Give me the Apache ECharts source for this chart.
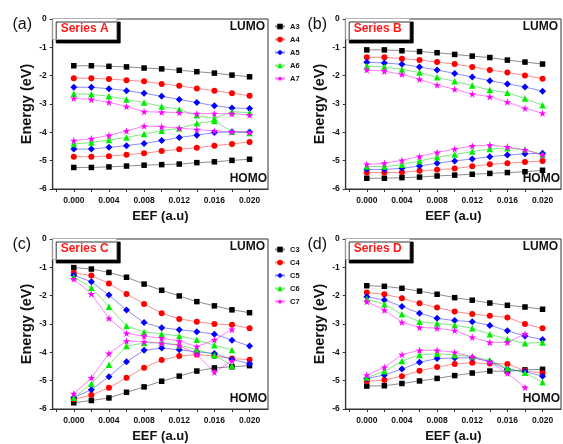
<!DOCTYPE html>
<html>
<head>
<meta charset="utf-8">
<script src="https://cdn.jsdelivr.net/npm/echarts@6/dist/echarts.min.js"></script>
<style>html,body{margin:0;padding:0;background:#fff}#c{width:563px;height:444px}</style>
</head>
<body>
<div id="c"></div>
<script>
// EEF values (a.u)
const eef = [0.000, 0.002, 0.004, 0.006, 0.008, 0.010, 0.012, 0.014, 0.016, 0.018, 0.020];
const xMajor = [0.000, 0.004, 0.008, 0.012, 0.016, 0.020];
const xMinor = [-0.002, 0.000, 0.002, 0.004, 0.006, 0.008, 0.010, 0.012, 0.014, 0.016, 0.018, 0.020];
const namesA = ['A3', 'A4', 'A5', 'A6', 'A7'];
const namesC = ['C3', 'C4', 'C5', 'C6', 'C7'];

// Series A
const a_lumo = [
  [-1.65,-1.65,-1.67,-1.69,-1.73,-1.76,-1.81,-1.86,-1.91,-1.98,-2.04],
  [-2.09,-2.09,-2.12,-2.16,-2.20,-2.29,-2.36,-2.45,-2.53,-2.62,-2.71],
  [-2.41,-2.41,-2.46,-2.53,-2.62,-2.73,-2.84,-2.95,-3.06,-3.14,-3.16],
  [-2.64,-2.66,-2.73,-2.84,-2.95,-3.09,-3.19,-3.40,-3.51,-3.27,-3.31],
  [-2.80,-2.84,-2.94,-3.09,-3.27,-3.29,-3.30,-3.34,-3.34,-3.34,-3.39]
];
const a_homo = [
  [-5.24,-5.24,-5.22,-5.19,-5.16,-5.14,-5.12,-5.07,-5.04,-4.99,-4.95],
  [-4.86,-4.86,-4.84,-4.79,-4.74,-4.66,-4.60,-4.54,-4.47,-4.41,-4.34],
  [-4.59,-4.59,-4.53,-4.47,-4.39,-4.29,-4.18,-4.10,-4.01,-3.98,-3.99],
  [-4.41,-4.36,-4.27,-4.18,-4.06,-3.94,-3.86,-3.68,-3.60,-3.98,-4.02],
  [-4.29,-4.22,-4.11,-3.95,-3.78,-3.80,-3.85,-3.90,-3.95,-3.98,-4.00]
];
// Series B
const b_lumo = [
  [-1.09,-1.09,-1.12,-1.15,-1.19,-1.25,-1.31,-1.36,-1.45,-1.52,-1.59],
  [-1.35,-1.35,-1.40,-1.45,-1.52,-1.59,-1.69,-1.80,-1.89,-1.99,-2.11],
  [-1.53,-1.55,-1.60,-1.69,-1.80,-1.92,-2.05,-2.18,-2.29,-2.40,-2.55],
  [-1.66,-1.69,-1.78,-1.89,-2.06,-2.20,-2.35,-2.51,-2.60,-2.81,-3.04],
  [-1.80,-1.84,-1.95,-2.13,-2.33,-2.48,-2.65,-2.74,-2.93,-3.15,-3.33]
];
const b_homo = [
  [-5.62,-5.62,-5.60,-5.58,-5.54,-5.51,-5.48,-5.45,-5.42,-5.39,-5.34],
  [-5.42,-5.42,-5.41,-5.36,-5.32,-5.28,-5.20,-5.13,-5.09,-5.05,-5.01],
  [-5.31,-5.31,-5.27,-5.19,-5.09,-5.01,-4.94,-4.86,-4.80,-4.76,-4.74],
  [-5.21,-5.21,-5.14,-5.01,-4.88,-4.78,-4.68,-4.59,-4.56,-4.61,-4.78],
  [-5.13,-5.09,-4.99,-4.85,-4.71,-4.59,-4.48,-4.45,-4.51,-4.62,-4.81]
];
// Series C
const c_lumo = [
  [-1.01,-1.06,-1.18,-1.35,-1.59,-1.81,-2.01,-2.21,-2.36,-2.50,-2.60],
  [-1.19,-1.29,-1.57,-1.94,-2.29,-2.62,-2.82,-2.92,-3.00,-3.03,-3.15],
  [-1.28,-1.51,-1.98,-2.51,-2.95,-3.13,-3.20,-3.27,-3.36,-3.57,-3.78],
  [-1.34,-1.72,-2.39,-3.07,-3.28,-3.35,-3.42,-3.56,-3.75,-3.92,null],
  [-1.41,-1.94,-2.80,-3.33,-3.43,-3.50,-3.60,-3.80,-3.56,-3.19,null]
];
const c_homo = [
  [-5.78,-5.70,-5.61,-5.41,-5.22,-5.02,-4.84,-4.66,-4.55,-4.51,-4.47],
  [-5.66,-5.51,-5.25,-4.90,-4.54,-4.27,-4.13,-4.08,-4.13,-4.22,-4.26],
  [-5.59,-5.32,-4.86,-4.33,-3.93,-3.85,-3.91,-3.98,-4.04,-4.25,-4.40],
  [-5.60,-5.11,-4.44,-3.78,-3.67,-3.66,-3.75,-3.90,-4.10,-4.47,null],
  [-5.46,-4.90,-4.04,-3.60,-3.63,-3.68,-3.75,-4.08,-4.70,-4.30,null]
];
// Series D
const d_lumo = [
  [-1.65,-1.67,-1.74,-1.84,-1.95,-2.07,-2.16,-2.26,-2.34,-2.40,-2.48],
  [-1.89,-1.95,-2.09,-2.27,-2.42,-2.56,-2.65,-2.71,-2.77,-3.00,-3.15],
  [-2.04,-2.15,-2.38,-2.62,-2.80,-2.88,-2.92,-3.05,-3.24,-3.42,-3.55],
  [-2.12,-2.31,-2.66,-2.92,-2.98,-3.04,-3.15,-3.36,-3.54,-3.68,-3.65],
  [-2.21,-2.51,-2.94,-3.12,-3.15,-3.23,-3.47,-3.65,-3.65,-3.35,null]
];
const d_homo = [
  [-5.19,-5.18,-5.10,-5.01,-4.92,-4.82,-4.73,-4.66,-4.67,-4.62,-4.60],
  [-5.02,-4.98,-4.84,-4.65,-4.52,-4.41,-4.37,-4.39,-4.41,-4.65,-4.74],
  [-4.92,-4.80,-4.59,-4.35,-4.22,-4.20,-4.19,-4.33,-4.60,-4.68,-4.84],
  [-4.89,-4.67,-4.31,-4.09,-4.05,-4.09,-4.15,-4.28,-4.56,-4.72,-5.06],
  [-4.80,-4.53,-4.08,-3.93,-3.93,-4.00,-4.16,-4.33,-4.74,-5.24,null]
];

const panels = [
  {lumo: a_lumo, homo: a_homo, names: namesA, tag: '(a)', title: 'Series A'},
  {lumo: b_lumo, homo: b_homo, names: namesA, tag: '(b)', title: 'Series B'},
  {lumo: c_lumo, homo: c_homo, names: namesC, tag: '(c)', title: 'Series C'},
  {lumo: d_lumo, homo: d_homo, names: namesC, tag: '(d)', title: 'Series D'}
];

// layout (pixels)
const layout = [
  {left: 52.7, top: 19},
  {left: 345.7, top: 19},
  {left: 52.7, top: 239},
  {left: 345.7, top: 239}
];
const GW = 215.3, GH = 170;

const colors = ['#000000', '#ff0000', '#0000ff', '#00ee00', '#ff00ff'];
const lineColors = ['rgba(0,0,0,0.45)', 'rgba(255,0,0,0.45)', 'rgba(0,0,255,0.45)', 'rgba(0,210,0,0.5)', 'rgba(255,0,255,0.5)'];
const STAR = 'path://M50,0 L61,35 L98,35 L68,57 L79,91 L50,70 L21,91 L32,57 L2,35 L39,35 Z';
const symbols = ['rect', 'circle', 'diamond', 'triangle', STAR];
const symSizes = [5.5, 6, 7, 6.5, 7.5];
const FONT = 'Arial, "Liberation Sans", sans-serif';

const grids = [], xAxes = [], yAxes = [], series = [], graphics = [];
panels.forEach((p, k) => {
  const L = layout[k];
  grids.push({left: L.left, top: L.top, width: GW, height: GH, show: true, borderColor: '#333', borderWidth: 1, backgroundColor: 'transparent', containLabel: false});
  xAxes.push({
    type: 'value', gridIndex: k, min: -0.0024, max: 0.0221,
    name: 'EEF (a.u)', nameLocation: 'middle', nameGap: 21,
    nameTextStyle: {fontFamily: FONT, fontWeight: 'bold', fontSize: 13, color: '#111'},
    axisLine: {show: true, onZero: false, lineStyle: {color: '#333', width: 1.2}},
    axisTick: {show: true, inside: false, length: 3, customValues: xMinor, lineStyle: {color: '#333'}},
    axisLabel: {show: true, customValues: xMajor, margin: 7, fontFamily: FONT, fontWeight: 'bold', fontSize: 8.5, color: '#111', formatter: v => v.toFixed(3)},
    splitLine: {show: false}
  });
  yAxes.push({
    type: 'value', gridIndex: k, min: -6, max: 0, interval: 1,
    name: 'Energy (eV)', nameLocation: 'middle', nameGap: 18,
    nameTextStyle: {fontFamily: FONT, fontWeight: 'bold', fontSize: 14.5, color: '#111'},
    axisLine: {show: true, onZero: false, lineStyle: {color: '#333', width: 1.2}},
    axisTick: {show: true, inside: false, length: 3, lineStyle: {color: '#333'}},
    axisLabel: {margin: 6, fontFamily: FONT, fontWeight: 'bold', fontSize: 8.5, color: '#111'},
    splitLine: {show: false}
  });
  [p.lumo, p.homo].forEach(band => {
    band.forEach((vals, i) => {
      series.push({
        type: 'line', name: p.names[i], xAxisIndex: k, yAxisIndex: k,
        data: vals.map((v, j) => [eef[j], v]),
        symbol: symbols[i], symbolSize: symSizes[i], showSymbol: true,
        itemStyle: {color: colors[i]},
        lineStyle: {color: lineColors[i], width: 1},
        connectNulls: false, animation: false, z: 2 + i
      });
    });
  });
  // panel tag
  graphics.push({type: 'text', left: (k % 2 === 0) ? 12.5 : 307.5, top: L.top - 2,
    style: {text: p.tag, font: '16px ' + FONT, fill: '#111'}});
  // series box
  graphics.push({type: 'rect', shape: {x: L.left, y: L.top - 0.5, width: 64, height: 21},
    style: {fill: '#fff', stroke: '#aaa', lineWidth: 0.8, shadowColor: '#000', shadowOffsetX: 3.5, shadowOffsetY: 3.5, shadowBlur: 0}, z: 10});
  graphics.push({type: 'text', x: L.left + 32, y: L.top + 10,
    style: {text: p.title, font: 'bold 12px ' + FONT, fill: '#ff1a1a', align: 'center', verticalAlign: 'middle'}, z: 11});
  const tx = L.left + 177;
  graphics.push({type: 'text', x: tx, y: L.top + 8,
    style: {text: 'LUMO', font: 'bold 12px ' + FONT, fill: '#111', align: 'left', verticalAlign: 'middle'}, z: 11});
  graphics.push({type: 'text', x: tx, y: L.top + 160,
    style: {text: 'HOMO', font: 'bold 12px ' + FONT, fill: '#111', align: 'left', verticalAlign: 'middle'}, z: 11});
});

const legendCommon = {
  orient: 'vertical', left: 274, itemWidth: 10, itemHeight: 7, itemGap: 5,
  textStyle: {fontFamily: FONT, fontWeight: 'bold', fontSize: 7.5, color: '#111', lineHeight: 8},
  padding: 0, selectedMode: false
};

const chart = echarts.init(document.getElementById('c'), null, {renderer: 'canvas'});
chart.setOption({
  backgroundColor: '#fff',
  animation: false,
  grid: grids,
  xAxis: xAxes,
  yAxis: yAxes,
  legend: [
    Object.assign({}, legendCommon, {top: 22.5, data: namesA}),
    Object.assign({}, legendCommon, {top: 245.5, data: namesC})
  ],
  graphic: graphics,
  series: series
});
</script>
</body>
</html>
